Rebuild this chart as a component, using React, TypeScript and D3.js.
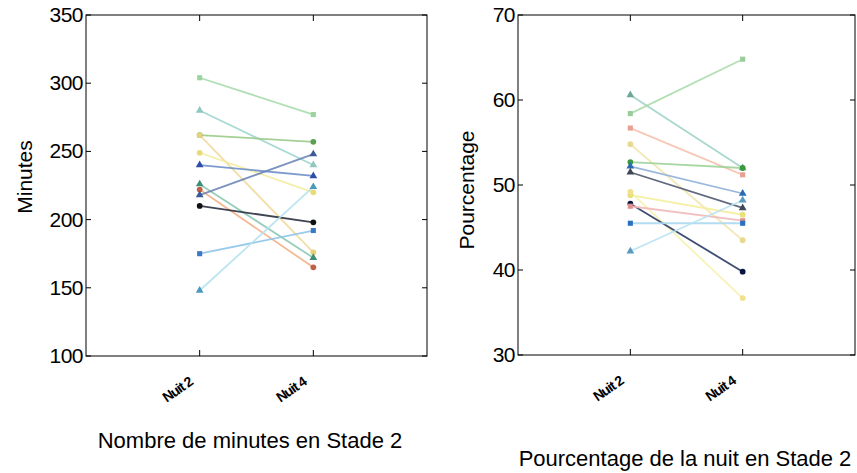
import { useRef, useEffect } from 'react';
import * as d3 from 'd3';

const NIGHTS = ['Nuit 2', 'Nuit 4'];

// minutes en stade 2 : [nuit 2, nuit 4]
const MINUTES = [
  [304, 277], [280, 240], [262, 257], [262, 176], [249, 220], [240, 232],
  [226, 172], [222, 165], [218, 248], [210, 198], [175, 192], [148, 224],
];
const MINUTES_COLORS = [
  '#a6dcaa', '#9fd6cf', '#9acb8a', '#f2d9a0', '#f3ec9c', '#6f8fc8',
  '#8cc9b4', '#f3b08a', '#6c86b6', '#2a3040', '#8fc4e8', '#b5e2ee',
];
const MINUTES_MARKERS = [
  '#9bd4a0', '#8fc8c0', '#5c9e52', '#e6d27a', '#e8dc7a', '#2c4ea8',
  '#3f8f78', '#c0604a', '#3a5a98', '#101010', '#3a78c8', '#4a9ab8',
];
const MINUTES_SHAPES = [
  'square', 'triangle', 'circle', 'circle', 'circle', 'triangle',
  'triangle', 'circle', 'triangle', 'circle', 'square', 'triangle',
];

// pourcentage de la nuit en stade 2 : [nuit 2, nuit 4]
const PERCENT = [
  [60.6, 52.0], [58.4, 64.8], [56.7, 51.2], [54.8, 43.5], [52.7, 52.0],
  [52.2, 49.0], [51.5, 47.3], [48.8, 46.5], [49.2, 36.7], [47.8, 39.8],
  [47.5, 45.8], [45.5, 45.5], [42.2, 48.2],
];
const PERCENT_COLORS = [
  '#9fd4c6', '#acdcac', '#f6c2ae', '#f2e6b0', '#9fd39a', '#8fb0d8',
  '#505a70', '#f5ee9c', '#f6f2b0', '#2a3a64', '#f0b8b8', '#aad8f0', '#b8e2f2',
];
const PERCENT_MARKERS = [
  '#6aa89a', '#98cc98', '#e8a090', '#e8d890', '#3c9a3c', '#2a6ab0',
  '#404858', '#e8e07a', '#f0e090', '#0a1640', '#e09090', '#2a70c0', '#5a9ac0',
];
const PERCENT_SHAPES = [
  'triangle', 'square', 'square', 'circle', 'circle', 'triangle',
  'triangle', 'circle', 'circle', 'circle', 'square', 'square', 'triangle',
];

const MINUTES_TICKS = [100, 150, 200, 250, 300, 350];
const PERCENT_TICKS = [30, 40, 50, 60, 70];

const FONT = '"Liberation Sans", Arial, sans-serif';
const SYMBOLS = { circle: d3.symbolCircle, triangle: d3.symbolTriangle, square: d3.symbolSquare };

function drawPanel(svg, opt) {
  const { left, right, top, bottom, domain, ticks, data, colors, markers, shapes, yLabel, yLabelPos, xTitle, xTitlePos } = opt;
  const x = d3.scaleLinear().domain([0, 3]).range([left, right]);
  const y = d3.scaleLinear().domain(domain).range([bottom, top]);
  const g = svg.append('g');

  // lines
  data.forEach((d, i) => {
    const pts = d.map((v, j) => [x(j + 1), y(v)]);
    g.append('path')
      .attr('d', d3.line()(pts))
      .attr('fill', 'none')
      .attr('stroke', colors[i])
      .attr('stroke-width', 1.8)
      .attr('stroke-opacity', 0.9);
  });
  // markers
  data.forEach((d, i) => {
    d.forEach((v, j) => {
      g.append('path')
        .attr('transform', `translate(${x(j + 1)},${y(v)})`)
        .attr('d', d3.symbol(SYMBOLS[shapes[i]], 26)())
        .attr('fill', markers[i]);
    });
  });

  // box
  g.append('rect')
    .attr('x', left).attr('y', top)
    .attr('width', right - left).attr('height', bottom - top)
    .attr('fill', 'none').attr('stroke', '#000').attr('stroke-width', 1);

  // y ticks (inward, both sides)
  ticks.forEach(t => {
    g.append('line').attr('x1', left).attr('x2', left + 5).attr('y1', y(t)).attr('y2', y(t)).attr('stroke', '#000');
    g.append('line').attr('x1', right).attr('x2', right - 5).attr('y1', y(t)).attr('y2', y(t)).attr('stroke', '#000');
    g.append('text')
      .attr('x', left - 3).attr('y', y(t) + 7)
      .attr('text-anchor', 'end')
      .attr('font-family', FONT).attr('font-size', 21)
      .attr('letter-spacing', -0.5)
      .text(t);
  });

  // x ticks
  NIGHTS.forEach((n, j) => {
    const xv = x(j + 1);
    g.append('line').attr('x1', xv).attr('x2', xv).attr('y1', bottom).attr('y2', bottom - 6).attr('stroke', '#000');
    g.append('line').attr('x1', xv).attr('x2', xv).attr('y1', top).attr('y2', top + 6).attr('stroke', '#000');
    g.append('text')
      .attr('transform', `translate(${xv - 6},${bottom + 28}) rotate(-35)`)
      .attr('text-anchor', 'end')
      .attr('font-family', FONT).attr('font-size', 14).attr('font-weight', 'bold')
      .attr('letter-spacing', -1)
      .text(n);
  });

  g.append('text')
    .attr('transform', `translate(${yLabelPos[0]},${yLabelPos[1]}) rotate(-90)`)
    .attr('text-anchor', 'middle')
    .attr('font-family', FONT).attr('font-size', 21)
    .text(yLabel);

  g.append('text')
    .attr('x', xTitlePos[0]).attr('y', xTitlePos[1])
    .attr('text-anchor', 'middle')
    .attr('font-family', FONT).attr('font-size', 22)
    .text(xTitle);
}

export default function App() {
  const svgRef = useRef(null);

  useEffect(() => {
    const svg = d3.select(svgRef.current);
    svg.selectAll('*').remove();
    svg.append('rect').attr('width', 857).attr('height', 473).attr('fill', '#fff');

    drawPanel(svg, {
      left: 86, right: 427, top: 15, bottom: 356,
      domain: [100, 350], ticks: MINUTES_TICKS,
      data: MINUTES, colors: MINUTES_COLORS, markers: MINUTES_MARKERS, shapes: MINUTES_SHAPES,
      yLabel: 'Minutes', yLabelPos: [32, 177],
      xTitle: 'Nombre de minutes en Stade 2', xTitlePos: [250, 448],
    });
    drawPanel(svg, {
      left: 518, right: 855, top: 15, bottom: 355,
      domain: [30, 70], ticks: PERCENT_TICKS,
      data: PERCENT, colors: PERCENT_COLORS, markers: PERCENT_MARKERS, shapes: PERCENT_SHAPES,
      yLabel: 'Pourcentage', yLabelPos: [474, 190],
      xTitle: 'Pourcentage de la nuit en Stade 2', xTitlePos: [685, 466],
    });
  }, []);

  return (
    <svg
      ref={svgRef}
      width={857}
      height={473}
      style={{ position: 'absolute', left: 0, top: 0, display: 'block' }}
    />
  );
}
